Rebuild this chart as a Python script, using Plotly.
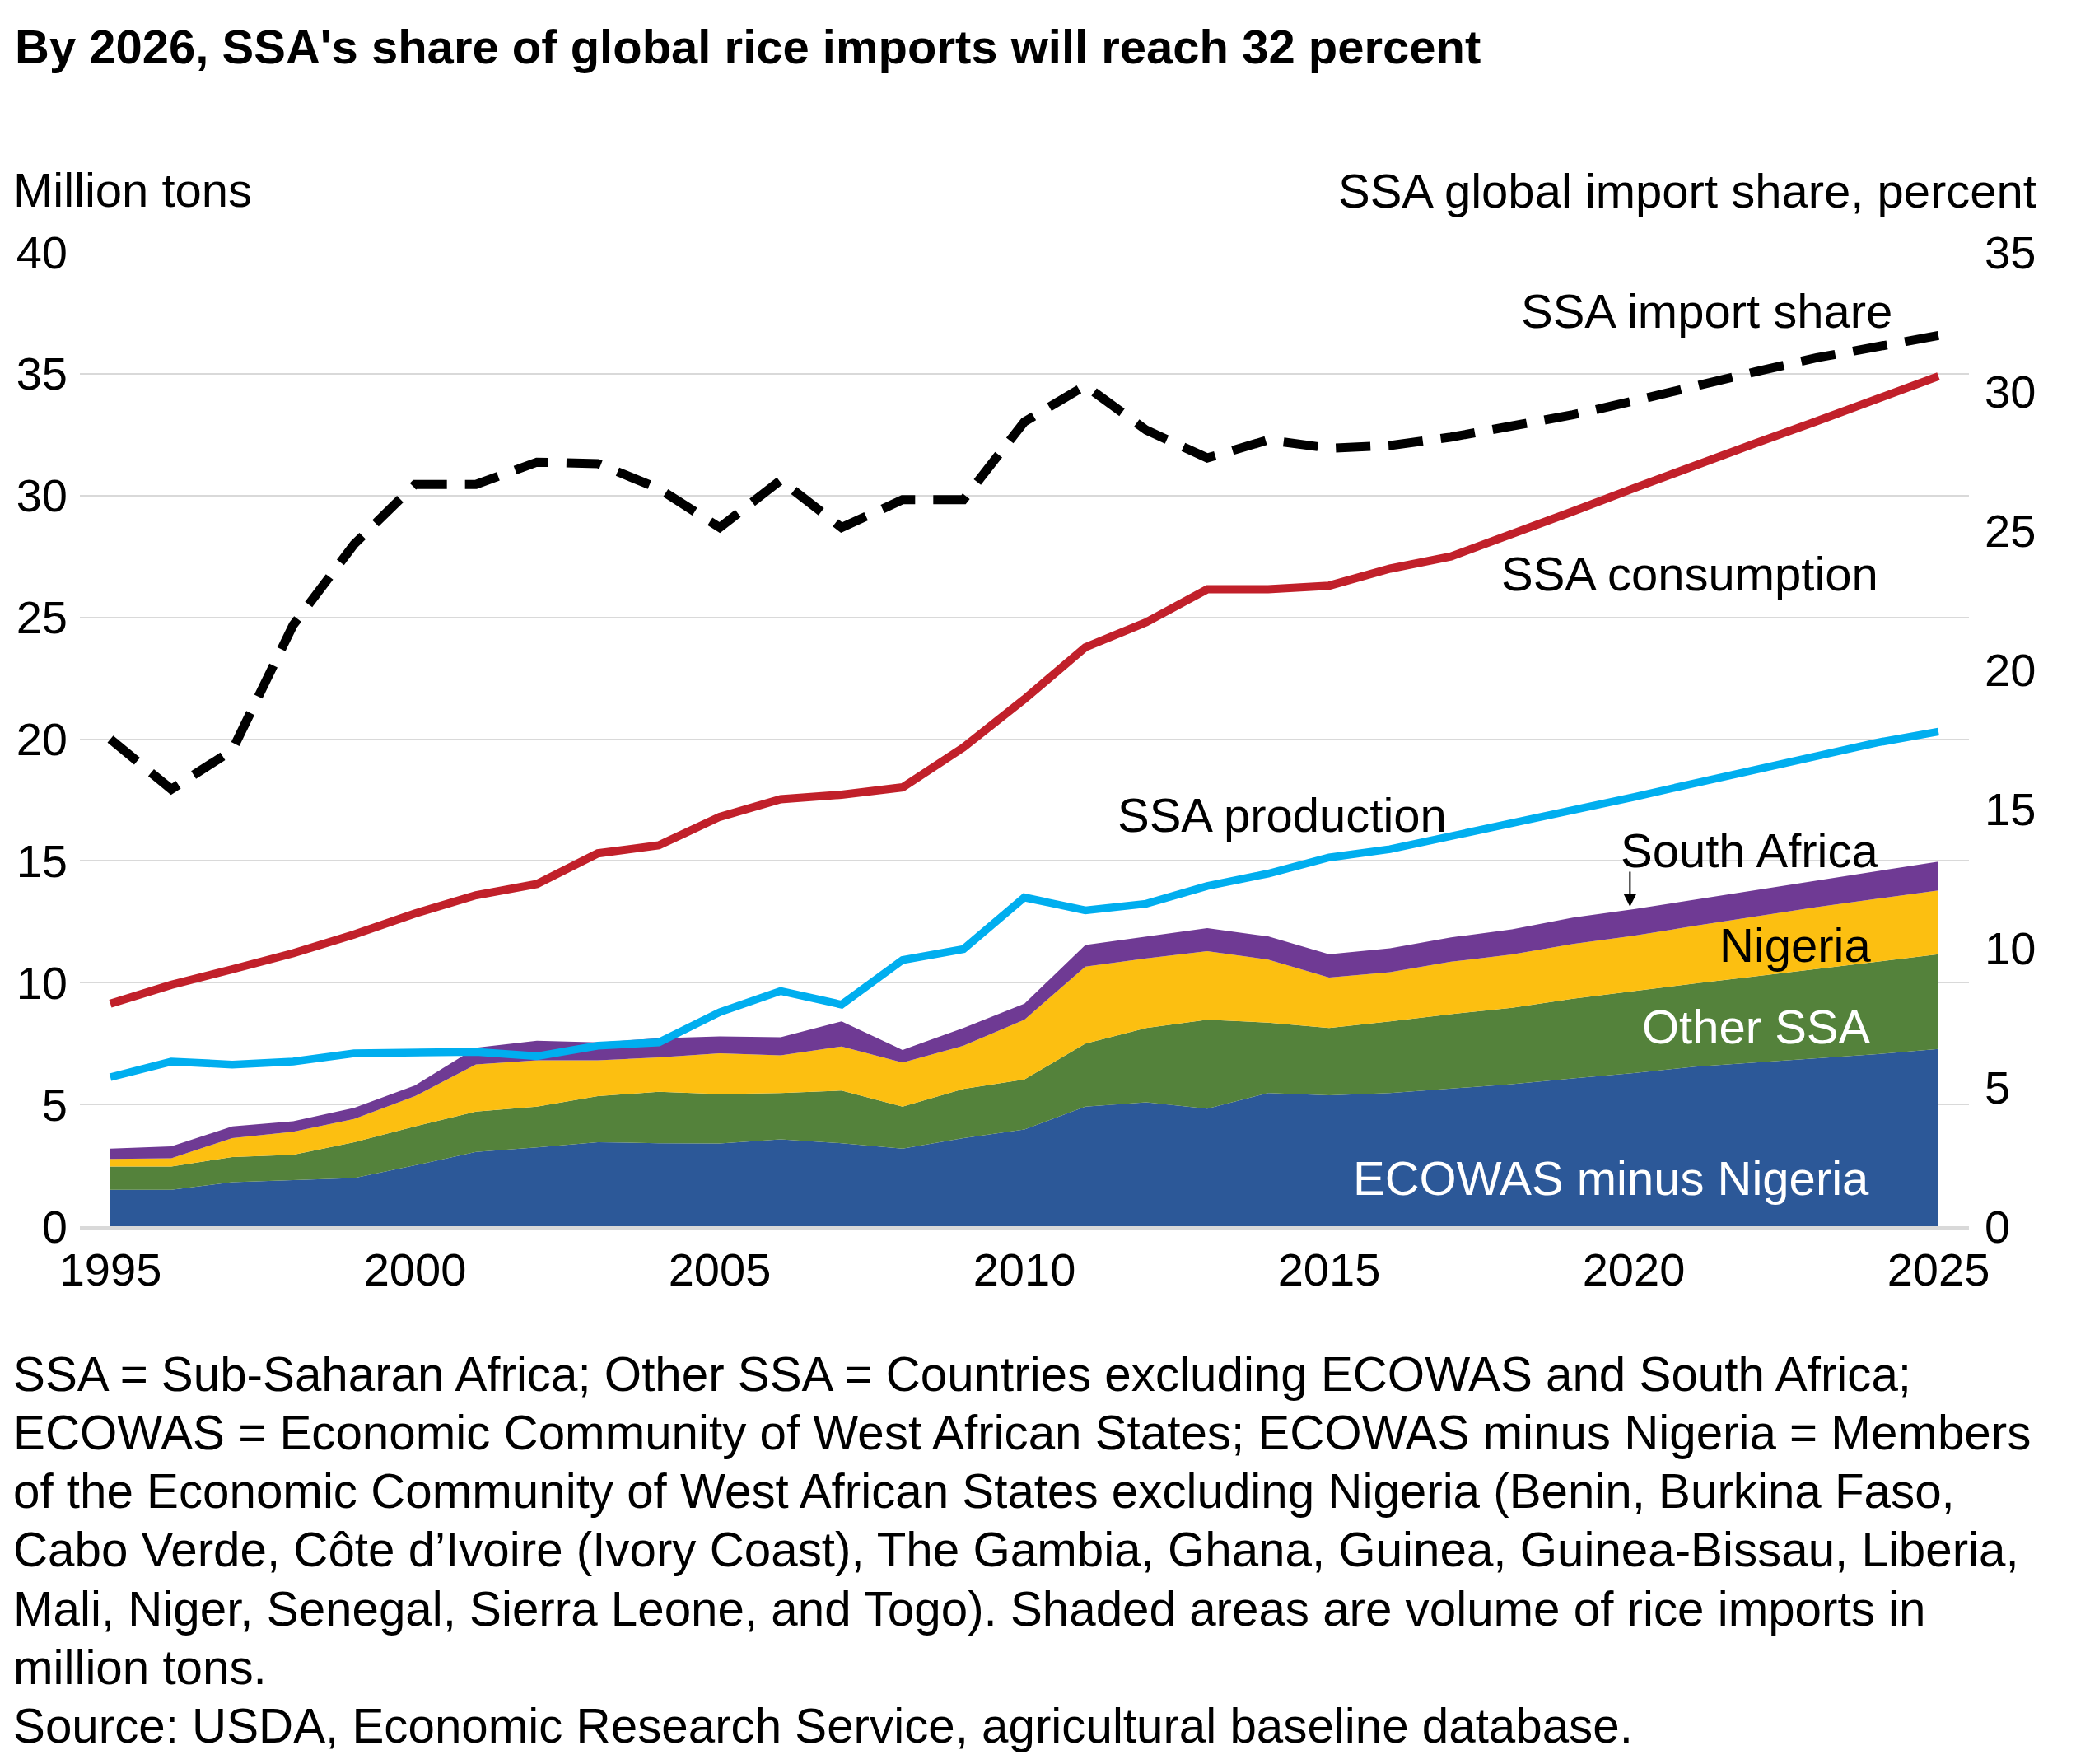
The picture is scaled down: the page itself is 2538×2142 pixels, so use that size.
import plotly.graph_objects as go

years = list(range(1995, 2026))

# stacked imports, million tons
ecowas_minus_nigeria = [1.50, 1.50, 1.81, 1.90, 1.98, 2.50, 3.05, 3.24, 3.45, 3.41, 3.40, 3.57, 3.41, 3.19, 3.62, 3.97,
                        4.91, 5.09, 4.83, 5.47, 5.38, 5.47, 5.66, 5.83, 6.07, 6.29, 6.55, 6.72, 6.90, 7.07, 7.28]
other_ssa = [0.95, 0.95, 1.03, 1.03, 1.47, 1.60, 1.66, 1.67, 1.89, 2.11, 2.03, 1.90, 2.16, 1.72, 2.02, 2.06,
             2.59, 3.05, 3.65, 2.89, 2.76, 2.94, 3.05, 3.14, 3.27, 3.37, 3.42, 3.54, 3.65, 3.79, 3.89]
nigeria = [0.31, 0.34, 0.78, 0.95, 0.95, 1.24, 1.93, 1.90, 1.47, 1.41, 1.67, 1.55, 1.81, 1.81, 1.77, 2.45,
           3.16, 2.86, 2.81, 2.59, 2.07, 2.02, 2.15, 2.19, 2.25, 2.27, 2.36, 2.45, 2.55, 2.59, 2.62]
south_africa = [0.43, 0.49, 0.48, 0.43, 0.46, 0.44, 0.69, 0.81, 0.74, 0.79, 0.69, 0.74, 1.03, 0.52, 0.73, 0.66,
                0.89, 0.90, 0.95, 0.95, 0.96, 0.98, 1.00, 1.03, 1.08, 1.09, 1.08, 1.08, 1.09, 1.12, 1.18]

ssa_production = [6.12, 6.76, 6.64, 6.76, 7.10, 7.10, 7.16, 6.98, 7.41, 7.55, 8.79, 9.66, 9.10, 10.93, 11.38, 13.50,
                  12.97, 13.24, 13.97, 14.48, 15.14, 15.48, 16.00, 16.55, 17.07, 17.62, 18.19, 18.76, 19.34, 19.86, 20.31]
ssa_consumption = [9.14, 9.91, 10.55, 11.21, 11.98, 12.84, 13.59, 14.05, 15.31, 15.64, 16.81, 17.53, 17.72, 18.02, 19.66, 21.64,
                   23.77, 24.80, 26.15, 26.15, 26.30, 27.00, 27.50, 28.40, 29.35, 30.30, 31.25, 32.15, 33.05, 33.95, 34.90]
# percent, right axis
ssa_import_share = [17.5, 15.7, 17.1, 21.6, 24.5, 26.65, 26.65, 27.45, 27.4, 26.5, 25.1, 26.8, 25.1, 26.1, 26.1, 28.9,
                    30.2, 28.6, 27.6, 28.25, 27.95, 28.05, 28.35, 28.75, 29.15, 29.65, 30.2, 30.7, 31.2, 31.6, 32.0]

left_ticks = [0, 5, 10, 15, 20, 25, 30, 35, 40]
right_ticks = [0, 5, 10, 15, 20, 25, 30, 35]
x_ticks = [1995, 2000, 2005, 2010, 2015, 2020, 2025]

title = "<b>By 2026, SSA's share of global rice imports will reach 32 percent</b>"
footnote = [
    "SSA = Sub-Saharan Africa; Other SSA = Countries excluding ECOWAS and South Africa;",
    "ECOWAS = Economic Community of West African States; ECOWAS minus Nigeria = Members",
    "of the Economic Community of West African States excluding Nigeria (Benin, Burkina Faso,",
    "Cabo Verde, Côte d’Ivoire (Ivory Coast), The Gambia, Ghana, Guinea, Guinea-Bissau, Liberia,",
    "Mali, Niger, Senegal, Sierra Leone, and Togo). Shaded areas are volume of rice imports in",
    "million tons.",
    "Source: USDA, Economic Research Service, agricultural baseline database.",
]

FONT = "Liberation Sans, Arial, Helvetica, sans-serif"
OFF = 8  # page body margin
W, H = 2538 - OFF, 2142 - OFF
PLOT_L, PLOT_R, PLOT_T, PLOT_B = 95 - OFF, 2391 - OFF, 306 - OFF, 1489 - OFF


# positions below are in page pixels of the reference
def px_x(px):
    return (px - OFF - PLOT_L) / (PLOT_R - PLOT_L)


def px_y(py):
    return (PLOT_B - (py - OFF)) / (PLOT_B - PLOT_T)


fig = go.Figure()

areas = [
    ("ECOWAS minus Nigeria", ecowas_minus_nigeria, "#2c5898"),
    ("Other SSA", other_ssa, "#54823b"),
    ("Nigeria", nigeria, "#fcbf11"),
    ("South Africa", south_africa, "#6f3a94"),
]
for name, vals, color in areas:
    fig.add_trace(go.Scatter(x=years, y=vals, name=name, mode="lines", stackgroup="imports",
                             line=dict(width=0, color=color), fillcolor=color))

fig.add_trace(go.Scatter(x=years, y=ssa_production, name="SSA production", mode="lines",
                         line=dict(color="#00aeef", width=9.5)))
fig.add_trace(go.Scatter(x=years, y=ssa_consumption, name="SSA consumption", mode="lines",
                         line=dict(color="#c1202a", width=10)))
fig.add_trace(go.Scatter(x=years, y=ssa_import_share, name="SSA import share", mode="lines", yaxis="y2",
                         line=dict(color="#000000", width=11, dash="42px,22px")))

annotations = []


def label(text, px, py, anchor, color="#000000", size=58):
    annotations.append(dict(text=text, x=px_x(px), y=px_y(py), xref="paper", yref="paper",
                            xanchor=anchor, yanchor="middle", showarrow=False,
                            font=dict(family=FONT, size=size, color=color)))


label(title, 14, 56, "left", size=58)
label("Million tons", 12, 230, "left")
label("SSA global import share, percent", 2475, 232, "right")
label("SSA import share", 2300, 378, "right")
label("SSA consumption", 2283, 696, "right")
label("SSA production", 1354, 989, "left")
label("South Africa", 1966, 1032, "left")
label("Nigeria", 2274, 1147, "right")
label("Other SSA", 2274, 1246, "right", color="#ffffff")
label("ECOWAS minus Nigeria", 2272, 1430, "right", color="#ffffff")
for i, line in enumerate(footnote):
    label(line, 12, 1668 + i * 71.3, "left", size=58.3)

# arrow pointing at the South Africa band
annotations.append(dict(x=px_x(1979), y=px_y(1101), xref="paper", yref="paper", text="",
                        showarrow=True, ax=0, ay=-44, arrowhead=2, arrowsize=1.6, arrowwidth=2,
                        arrowcolor="#000000", standoff=0))

fig.update_layout(
    width=W, height=H,
    margin=dict(l=PLOT_L, r=W - PLOT_R, t=PLOT_T, b=H - PLOT_B, pad=0),
    paper_bgcolor="white", plot_bgcolor="white",
    showlegend=False,
    font=dict(family=FONT, size=56, color="#000000"),
    annotations=annotations,
    xaxis=dict(range=[1994.5, 2025.5], tickvals=x_ticks, showgrid=False, zeroline=False,
               showline=True, linecolor="#d9d9d9", linewidth=4, ticks="", ticklabelstandoff=1,
               tickfont=dict(size=56)),
    yaxis=dict(range=[0, 40], tickvals=left_ticks, showgrid=True, gridcolor="#d9d9d9", gridwidth=2,
               zeroline=False, ticks="", ticklabelstandoff=14, tickfont=dict(size=56)),
    yaxis2=dict(range=[0, 35], tickvals=right_ticks, overlaying="y", side="right", showgrid=False,
                zeroline=False, ticks="", ticklabelstandoff=18, tickfont=dict(size=56)),
)

fig.write_html("out.html", config={"displayModeBar": False})
